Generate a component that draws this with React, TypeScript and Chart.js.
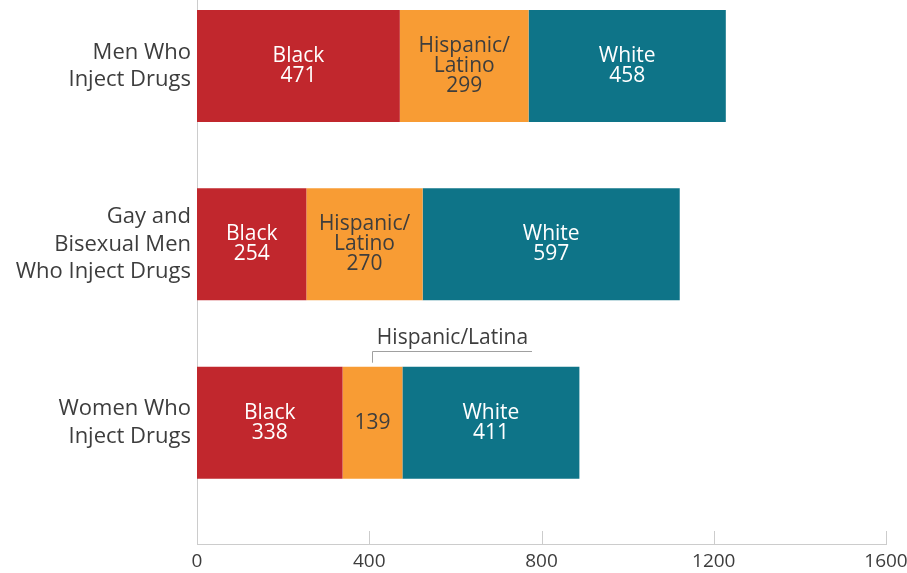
import React, { useEffect, useRef } from 'react';
import { Chart, registerables } from 'chart.js';

Chart.register(...registerables);

const categories: string[][] = [
  ['Men Who', 'Inject Drugs'],
  ['Gay and', 'Bisexual Men', 'Who Inject Drugs'],
  ['Women Who', 'Inject Drugs'],
];
const seriesNames = ['Black', 'Hispanic/Latino', 'White'];
const segmentNameLines: string[][] = [['Black'], ['Hispanic/', 'Latino'], ['White']];
const blackValues = [471, 254, 338];
const hispanicValues = [299, 270, 139];
const whiteValues = [458, 597, 411];
const xTicks = [0, 400, 800, 1200, 1600];
const calloutText = 'Hispanic/Latina';

const colors = ['#C1272D', '#F89C34', '#0E7488'];
const textColors = ['#ffffff', '#3d3d3d', '#ffffff'];
const FONT = "'Open Sans', sans-serif";

const segmentLabelPlugin = {
  id: 'segmentLabels',
  afterDatasetsDraw(chart: any) {
    const ctx = chart.ctx;
    ctx.save();
    ctx.textAlign = 'center';
    ctx.textBaseline = 'middle';
    ctx.font = `21px ${FONT}`;
    chart.data.datasets.forEach((ds: any, di: number) => {
      const meta = chart.getDatasetMeta(di);
      meta.data.forEach((el: any, j: number) => {
        const left = Math.min(el.x, el.base);
        const right = Math.max(el.x, el.base);
        const cx = (left + right) / 2;
        const cy = el.y;
        const w = right - left;
        const val = ds.data[j].x;
        ctx.fillStyle = textColors[di];
        if (w < 80) {
          ctx.fillText(String(val), cx, cy);
          const top = el.y - el.height / 2;
          const hy = Math.round(top - 16);
          ctx.strokeStyle = '#a0a0a0';
          ctx.lineWidth = 1;
          ctx.beginPath();
          ctx.moveTo(Math.round(cx) + 0.5, top - 4);
          ctx.lineTo(Math.round(cx) + 0.5, hy + 0.5);
          ctx.lineTo(Math.round(cx) + 160, hy + 0.5);
          ctx.stroke();
          ctx.fillStyle = '#3d3d3d';
          ctx.fillText(calloutText, cx + 80, hy - 13);
        } else {
          const lines = [...segmentNameLines[di], String(val)];
          const lh = 20;
          const start = cy - ((lines.length - 1) * lh) / 2;
          lines.forEach((t, k) => ctx.fillText(t, cx, start + k * lh));
        }
      });
    });
    ctx.restore();
  },
};

const innerTickPlugin = {
  id: 'innerTicks',
  afterDatasetsDraw(chart: any) {
    const ctx = chart.ctx;
    const xs = chart.scales.x;
    const bottom = chart.chartArea.bottom;
    ctx.save();
    ctx.strokeStyle = '#cccccc';
    ctx.lineWidth = 1;
    xTicks.forEach((v) => {
      if (v === 0) return;
      const px = Math.round(xs.getPixelForValue(v)) + 0.5;
      ctx.beginPath();
      ctx.moveTo(px, bottom - 13);
      ctx.lineTo(px, bottom);
      ctx.stroke();
    });
    ctx.restore();
  },
};

export default function App() {
  const ref = useRef<HTMLCanvasElement | null>(null);
  useEffect(() => {
    if (!ref.current) return;
    const valueSets = [blackValues, hispanicValues, whiteValues];
    const chart = new Chart(ref.current, {
      type: 'bar',
      data: {
        datasets: seriesNames.map((name, i) => ({
          label: name,
          data: valueSets[i].map((v, j) => ({ x: v, y: j })),
          backgroundColor: colors[i],
          borderWidth: 0,
          barPercentage: 0.628,
          categoryPercentage: 1,
        })),
      } as any,
      options: {
        indexAxis: 'y',
        animation: false,
        responsive: false,
        layout: { padding: { top: 0, right: 21, left: 0, bottom: 0 } },
        plugins: { legend: { display: false }, tooltip: { enabled: false } },
        scales: {
          x: {
            type: 'linear',
            stacked: true,
            min: 0,
            max: 1600,
            afterBuildTicks: (s: any) => {
              s.ticks = xTicks.map((v) => ({ value: v }));
            },
            afterFit: (s: any) => {
              s.paddingRight = 0;
              s.paddingLeft = 0;
              s.height = 29;
            },
            grid: { display: false, drawTicks: false },
            border: { display: true, color: '#cccccc' },
            ticks: {
              padding: 6,
              color: '#3d3d3d',
              font: { family: FONT, size: 19 },
              maxRotation: 0,
              callback: (v: any) => String(v),
            },
          },
          y: {
            type: 'linear',
            stacked: true,
            reverse: true,
            offset: false,
            min: -0.37,
            max: 2.68,
            afterBuildTicks: (s: any) => {
              s.ticks = categories.map((_, i) => ({ value: i }));
            },
            afterFit: (s: any) => {
              s.width = 197;
              s.paddingTop = 0;
              s.paddingBottom = 0;
            },
            grid: { display: false, drawTicks: false },
            border: { display: true, color: '#cccccc' },
            ticks: {
              padding: 6,
              color: '#3d3d3d',
              font: { family: FONT, size: 22, lineHeight: 1.25 },
              callback: (v: any) => categories[v as number] ?? '',
            },
          },
        },
      } as any,
      plugins: [segmentLabelPlugin, innerTickPlugin],
    });
    return () => chart.destroy();
  }, []);
  return (
    <div style={{ position: 'fixed', left: 0, top: 0, width: 907, height: 573, background: '#fff' }}>
      <canvas ref={ref} width={907} height={573} style={{ width: 907, height: 573, display: 'block' }} />
    </div>
  );
}
